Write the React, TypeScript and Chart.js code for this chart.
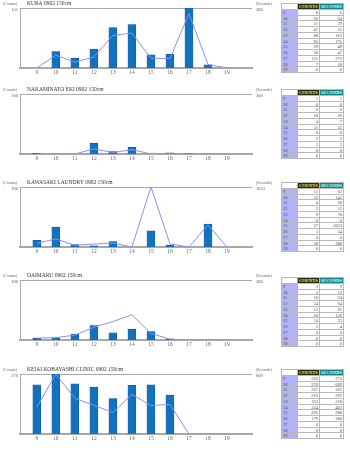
import React, { useEffect, useRef } from "react";
import { Chart, registerables } from "chart.js";

Chart.register(...registerables);

const HOURS = [9, 10, 11, 12, 13, 14, 15, 16, 17, 18, 19];

const kuraTitle = "KURA 0902 150cm";
const kuraCounts = [0, 36, 21, 41, 88, 95, 29, 30, 131, 7, 0];
const kuraSeconds = [0, 64, 29, 55, 163, 175, 49, 47, 272, 18, 0];
const kuraMax = [131, 300];

const nakaTitle = "NAKAMINATO EKI 0902 150cm";
const nakaCounts = [1, 0, 0, 18, 4, 11, 0, 2, 1, 0, 0];
const nakaSeconds = [1, 0, 0, 26, 7, 22, 0, 2, 1, 0, 0];
const nakaMax = [100, 300];

const kawaTitle = "KAWASAKI LAUNDRY 0902 150cm";
const kawaCounts = [11, 33, 4, 2, 9, 0, 27, 3, 0, 38, 0];
const kawaSeconds = [62, 142, 30, 52, 70, 0, 1053, 54, 0, 388, 0];
const kawaMax = [100, 1053];

const daiTitle = "DAIMARU 0902 150cm";
const daiCounts = [3, 3, 10, 24, 12, 18, 14, 2, 0, 0, 0];
const daiSeconds = [9, 12, 24, 64, 92, 126, 33, 4, 0, 0, 0];
const daiMax = [100, 300];

const keiTitle = "KEIAI KOBAYASHI CLINIC 0902 150cm";
const keiCounts = [226, 276, 231, 216, 163, 224, 226, 179, 0, 0, 0];
const keiSeconds = [273, 609, 362, 292, 218, 403, 288, 300, 0, 0, 0];
const keiMax = [276, 609];

const PANELS = [
  { title: kuraTitle, counts: kuraCounts, seconds: kuraSeconds, max: kuraMax },
  { title: nakaTitle, counts: nakaCounts, seconds: nakaSeconds, max: nakaMax },
  { title: kawaTitle, counts: kawaCounts, seconds: kawaSeconds, max: kawaMax },
  { title: daiTitle, counts: daiCounts, seconds: daiSeconds, max: daiMax },
  { title: keiTitle, counts: keiCounts, seconds: keiSeconds, max: keiMax },
];

const PLOT_TOPS = [8, 94, 187, 280, 374];
const TABLE_TOPS = [3, 89, 182, 277, 369];

const FONT = '"Liberation Serif", "Times New Roman", serif';

const headerPlugin = {
  id: "hdr",
  afterDraw(chart: any, _args: any, opts: any) {
    const ctx = chart.ctx;
    ctx.save();
    ctx.textBaseline = "middle";
    ctx.fillStyle = "#333";
    ctx.font = `5.5px ${FONT}`;
    ctx.fillText(opts.title, 27, 4);
    ctx.fillStyle = "#666";
    ctx.font = `4px ${FONT}`;
    ctx.fillText("(Counts)", 3, 4);
    ctx.fillText("(Seconds)", 256, 4);
    ctx.restore();
  },
};

function Panel({ p, top }: { p: any; top: number }) {
  const ref = useRef<HTMLCanvasElement>(null);
  useEffect(() => {
    if (!ref.current) return;
    const chart = new Chart(ref.current, {
      type: "bar",
      data: {
        datasets: [
          {
            type: "line",
            data: HOURS.map((h, i) => ({ x: h, y: p.seconds[i] })),
            yAxisID: "y1",
            borderColor: "#8c8cff",
            borderWidth: 1,
            pointRadius: 0,
            tension: 0,
            order: 0,
          } as any,
          {
            type: "bar",
            data: HOURS.map((h, i) => ({ x: h, y: p.counts[i] })),
            yAxisID: "y",
            backgroundColor: "#1272bd",
            borderColor: "#0b5a98",
            borderWidth: 0.6,
            barThickness: 8,
            order: 1,
          } as any,
        ],
      },
      options: {
        animation: false,
        responsive: false,
        layout: { padding: { top: 8, left: 0, right: 0, bottom: 0 } },
        plugins: {
          legend: { display: false },
          tooltip: { enabled: false },
          hdr: { title: p.title },
        } as any,
        scales: {
          x: {
            type: "linear",
            min: 8.67,
            max: 19.76,
            afterBuildTicks: (s: any) => {
              s.ticks = HOURS.map((v) => ({ value: v }));
            },
            grid: { display: false, drawTicks: false },
            border: { display: true, color: "#a8a8a8", width: 2 },
            ticks: {
              color: "#666",
              font: { family: FONT, size: 5.5 },
              padding: 1,
              maxRotation: 0,
              autoSkip: false,
              callback: (v: any) => String(v),
            },
            afterFit: (s: any) => {
              s.height = 12;
            },
          },
          y: {
            position: "left",
            min: 0,
            max: p.max[0],
            afterBuildTicks: (s: any) => {
              s.ticks = [{ value: p.max[0] }];
            },
            grid: { display: true, color: "#a8a8a8", drawTicks: false, lineWidth: 1 },
            border: { display: true, color: "#a8a8a8", width: 1 },
            ticks: {
              color: "#555",
              font: { family: FONT, size: 4.5 },
              padding: 2,
              labelOffset: 2,
              callback: (v: any) => String(v),
            },
            afterFit: (s: any) => {
              s.width = 20;
            },
          },
          y1: {
            position: "right",
            min: 0,
            max: p.max[1],
            afterBuildTicks: (s: any) => {
              s.ticks = [{ value: p.max[1] }];
            },
            grid: { display: false, drawTicks: false },
            border: { display: false },
            ticks: {
              color: "#555",
              font: { family: FONT, size: 4.5 },
              padding: 4,
              labelOffset: 2,
              callback: (v: any) => String(v),
            },
            afterFit: (s: any) => {
              s.width = 26;
            },
          },
        },
      } as any,
      plugins: [headerPlugin as any],
    });
    return () => chart.destroy();
  }, [p]);
  return (
    <canvas
      ref={ref}
      width={278}
      height={80}
      style={{ position: "absolute", left: 0, top, width: 278, height: 80 }}
    />
  );
}

function DataTable({ p, top }: { p: any; top: number }) {
  const rowH = 5.75;
  const cell: React.CSSProperties = {
    borderRight: "0.5px solid #b8b8b8",
    borderBottom: "0.5px solid #b8b8b8",
    padding: "0 1px",
    height: rowH,
    lineHeight: `${rowH - 0.5}px`,
    fontSize: 4.5,
    overflow: "hidden",
    whiteSpace: "nowrap",
    boxSizing: "border-box",
  };
  const cells: React.ReactNode[] = [];
  cells.push(<div key="h0" style={{ ...cell, background: "#fff" }} />);
  cells.push(
    <div key="h1" style={{ ...cell, background: "#2a2a08", color: "#f4ee88", fontWeight: "bold", textAlign: "center", padding: 0 }}>
      COUNTS
    </div>
  );
  cells.push(
    <div key="h2" style={{ ...cell, background: "#148484", color: "#d8ffff", fontWeight: "bold", textAlign: "center", padding: 0 }}>
      SECONDS
    </div>
  );
  HOURS.forEach((h, i) => {
    cells.push(<div key={`a${i}`} style={{ ...cell, background: "#b2b2f6", textAlign: "left" }}>{h}</div>);
    cells.push(<div key={`b${i}`} style={{ ...cell, background: "#fff", textAlign: "right" }}>{p.counts[i]}</div>);
    cells.push(<div key={`c${i}`} style={{ ...cell, background: "#fff", textAlign: "right" }}>{p.seconds[i]}</div>);
  });
  return (
    <div
      style={{
        position: "absolute",
        left: 281,
        top,
        width: 62,
        display: "grid",
        gridTemplateColumns: "16px 22px 24px",
        gridTemplateRows: `repeat(12, ${rowH}px)`,
        borderTop: "0.5px solid #b8b8b8",
        borderLeft: "0.5px solid #b8b8b8",
        boxSizing: "content-box",
        fontFamily: FONT,
        color: "#444",
      }}
    >
      {cells}
    </div>
  );
}

export default function App() {
  return (
    <div
      style={{
        position: "absolute",
        left: 0,
        top: 0,
        width: 350,
        height: 467,
        background: "#fff",
        overflow: "hidden",
      }}
    >
      {PANELS.map((p, i) => (
        <React.Fragment key={i}>
          <Panel p={p} top={PLOT_TOPS[i] - 8} />
          <DataTable p={p} top={TABLE_TOPS[i]} />
        </React.Fragment>
      ))}
    </div>
  );
}
